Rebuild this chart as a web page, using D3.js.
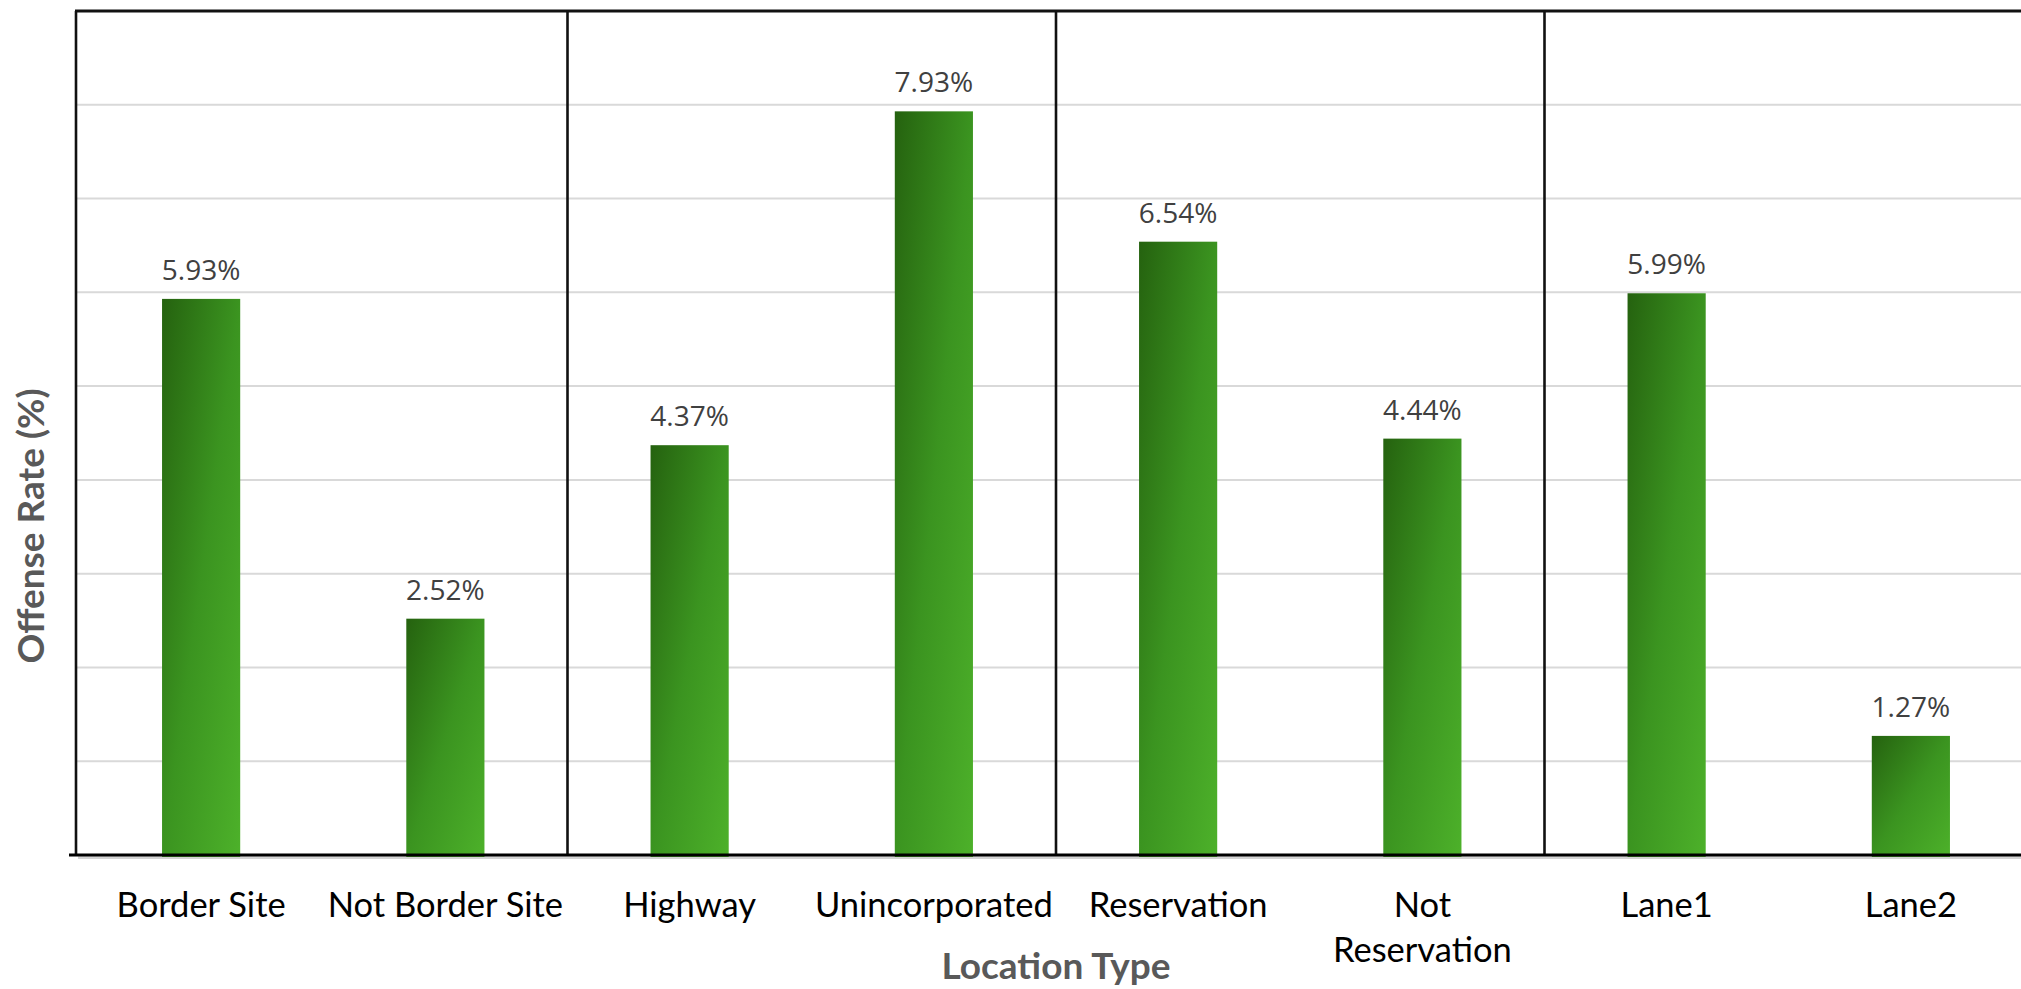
<!DOCTYPE html>
<html>
<head>
<meta charset="utf-8">
<script src="https://cdn.jsdelivr.net/npm/d3@7"></script>
<style>
  body { margin: 0; background: #ffffff; }
  svg { display: block; }
</style>
</head>
<body>
<div id="chart"></div>
<script>
// Offense rate by location type
const categories = ["Border Site", "Not Border Site", "Highway", "Unincorporated", "Reservation", "Not Reservation", "Lane1", "Lane2"];
const tickLines = [["Border Site"], ["Not Border Site"], ["Highway"], ["Unincorporated"], ["Reservation"], ["Not", "Reservation"], ["Lane1"], ["Lane2"]];
const offenseRates = [5.93, 2.52, 4.37, 7.93, 6.54, 4.44, 5.99, 1.27];
const gridTicks = [1, 2, 3, 4, 5, 6, 7, 8];
// a separator follows each of these categories (pairs of related locations)
const groupEnds = ["Not Border Site", "Unincorporated", "Not Reservation"];

const W = 2021, H = 989;
const plotLeft = 76, plotTop = 11, plotBottom = 855;

const svg = d3.select("#chart").append("svg")
  .attr("width", W).attr("height", H);

const defs = svg.append("defs");
const grad = defs.append("linearGradient")
  .attr("id", "barFill")
  .attr("x1", 0).attr("y1", 0).attr("x2", 1).attr("y2", 1);
grad.append("stop").attr("offset", "0%").attr("stop-color", "#25620f");
grad.append("stop").attr("offset", "50%").attr("stop-color", "#3b9420");
grad.append("stop").attr("offset", "100%").attr("stop-color", "#4db12a");

const x = d3.scaleBand()
  .domain(categories)
  .range([79, 79 + 8 * 244.25])
  .paddingInner(0.68)
  .paddingOuter(0.34);

const y = d3.scaleLinear()
  .domain([0, 9])
  .range([plotBottom, plotTop]);

// horizontal gridlines
svg.append("g")
  .selectAll("line")
  .data(gridTicks)
  .join("line")
  .attr("x1", plotLeft).attr("x2", W)
  .attr("y1", d => y(d)).attr("y2", d => y(d))
  .attr("stroke", "#d9d9d9")
  .attr("stroke-width", 2);

// soft shadow under the baseline
svg.append("line")
  .attr("x1", 78).attr("x2", W)
  .attr("y1", y(0) + 2.7).attr("y2", y(0) + 2.7)
  .attr("stroke", "#d4d4d4")
  .attr("stroke-width", 2.7);

// bars
const data = categories.map((c, i) => ({ cat: c, value: offenseRates[i], lines: tickLines[i] }));

svg.append("g")
  .selectAll("rect")
  .data(data)
  .join("rect")
  .attr("x", d => x(d.cat))
  .attr("y", d => y(d.value))
  .attr("width", x.bandwidth())
  .attr("height", d => y(0) + 2 - y(d.value))
  .attr("fill", "url(#barFill)");

// value labels
svg.append("g")
  .selectAll("text")
  .data(data)
  .join("text")
  .attr("x", d => x(d.cat) + x.bandwidth() / 2)
  .attr("y", d => y(d.value) - 19)
  .attr("text-anchor", "middle")
  .attr("font-family", "'Open Sans', sans-serif")
  .attr("font-size", 28)
  .attr("fill", "#404040")
  .text(d => d.value.toFixed(2) + "%");

// group separators
svg.append("g")
  .selectAll("line")
  .data(groupEnds)
  .join("line")
  .attr("x1", d => x(d) + x.bandwidth() / 2 + x.step() / 2)
  .attr("x2", d => x(d) + x.bandwidth() / 2 + x.step() / 2)
  .attr("y1", plotTop)
  .attr("y2", plotBottom)
  .attr("stroke", "#111")
  .attr("stroke-width", 2.6);

// frame: top, left, baseline
svg.append("line")
  .attr("x1", plotLeft - 1).attr("x2", W)
  .attr("y1", plotTop).attr("y2", plotTop)
  .attr("stroke", "#111").attr("stroke-width", 3);
svg.append("line")
  .attr("x1", plotLeft).attr("x2", plotLeft)
  .attr("y1", plotTop).attr("y2", plotBottom)
  .attr("stroke", "#111").attr("stroke-width", 2.6);
svg.append("line")
  .attr("x1", 69).attr("x2", W)
  .attr("y1", y(0)).attr("y2", y(0))
  .attr("stroke", "#000").attr("stroke-width", 2.8);

// category labels
const xAxis = svg.append("g");
const tick = xAxis.selectAll("text")
  .data(data)
  .join("text")
  .attr("text-anchor", "middle")
  .attr("font-family", "Lato, 'Open Sans', sans-serif")
  .attr("font-size", 34.5)
  .attr("fill", "#000");
tick.selectAll("tspan")
  .data(d => d.lines.map(l => ({ l, cx: x(d.cat) + x.bandwidth() / 2 })))
  .join("tspan")
  .attr("x", d => d.cx)
  .attr("y", (d, i) => 917 + i * 45)
  .text(d => d.l);

// axis titles
svg.append("text")
  .attr("x", (x.range()[0] + x.range()[1]) / 2)
  .attr("y", 979)
  .attr("text-anchor", "middle")
  .attr("font-family", "Lato, 'Open Sans', sans-serif")
  .attr("font-weight", "bold")
  .attr("font-size", 37)
  .attr("fill", "#595959")
  .text("Location Type");

svg.append("text")
  .attr("transform", "translate(44,526) rotate(-90)")
  .attr("text-anchor", "middle")
  .attr("font-family", "Lato, 'Open Sans', sans-serif")
  .attr("font-weight", "bold")
  .attr("font-size", 37)
  .attr("fill", "#595959")
  .text("Offense Rate (%)");
</script>
</body>
</html>
